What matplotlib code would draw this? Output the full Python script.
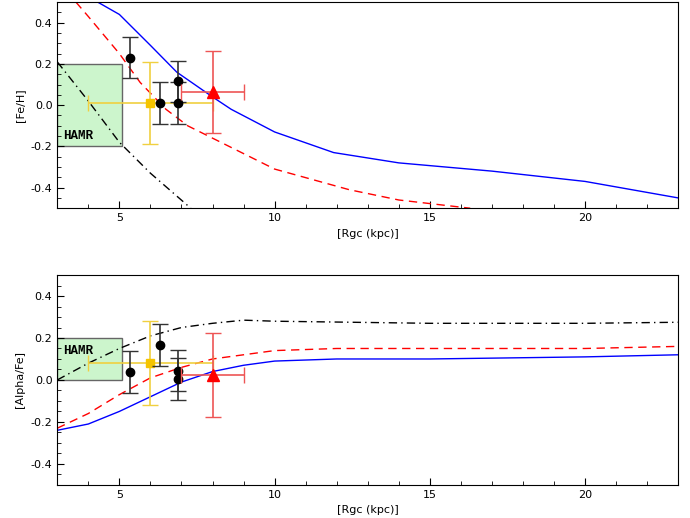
import numpy as np
import matplotlib.pyplot as plt
from matplotlib.patches import Rectangle
from matplotlib.ticker import MultipleLocator

# model curves (x in kpc)
fe_blue_x = [4.3, 5, 6, 6.85, 8, 8.6, 10, 11.9, 14, 17, 20, 23]
fe_blue_y = [0.5, 0.44, 0.29, 0.16, 0.04, -0.02, -0.13, -0.23, -0.28, -0.32, -0.37, -0.45]
fe_red_x = [3.6, 4, 5, 5.67, 6.5, 7.2, 8, 10, 12.4, 14, 16.3]
fe_red_y = [0.5, 0.43, 0.25, 0.11, -0.02, -0.1, -0.16, -0.31, -0.41, -0.46, -0.5]
fe_blk_x = [3, 4, 5, 6, 7.3]
fe_blk_y = [0.21, 0.02, -0.18, -0.33, -0.5]

al_blue_x = [3, 4, 5, 6, 7, 8, 9, 10, 12, 15, 20, 23]
al_blue_y = [-0.24, -0.21, -0.15, -0.08, -0.01, 0.04, 0.07, 0.09, 0.1, 0.1, 0.11, 0.12]
al_red_x = [3, 4, 5, 6, 7, 8, 9, 10, 12, 20, 23]
al_red_y = [-0.23, -0.16, -0.07, 0.01, 0.06, 0.1, 0.12, 0.14, 0.15, 0.15, 0.16]
al_blk_x = [3, 4, 5, 6, 7, 8, 9, 10, 15, 20, 23]
al_blk_y = [0.0, 0.08, 0.15, 0.21, 0.25, 0.27, 0.285, 0.28, 0.27, 0.27, 0.275]

# observations
blk_x = [5.35, 6.3, 6.9, 6.9]
fe_blk = [0.23, 0.01, 0.115, 0.01]
al_blk = [0.04, 0.165, 0.045, 0.005]
blk_err = 0.1
yel_x, yel_xlo, yel_xhi = 6.0, 2.0, 2.0
fe_yel, al_yel, yel_err = 0.01, 0.08, 0.2
red_x, red_xerr = 8.0, 1.0
fe_red_pt, al_red_pt, red_err = 0.065, 0.025, 0.2

fig = plt.figure(figsize=(6.9, 5.18), dpi=100)
ax1 = fig.add_axes([0.083, 0.598, 0.9, 0.398])
ax2 = fig.add_axes([0.083, 0.064, 0.9, 0.405])

def panel(ax, bx, by, rx, ry, kx, ky, pts, yel, red, box, text_y, ylabel):
    ax.add_patch(Rectangle((3, box[0]), 2.1, box[1] - box[0], facecolor='#ccf5cc',
                           edgecolor='#666666', lw=1, zorder=1))
    ax.text(3.2, text_y, 'HAMR', family='Liberation Mono', fontsize=9,
            va='center', weight='bold', zorder=2)
    ax.plot(bx, by, color='blue', lw=1)
    ax.plot(rx, ry, color='red', lw=1, ls=(0, (6, 4)))
    ax.plot(kx, ky, color='black', lw=1, ls=(0, (6, 3, 1, 3)))
    ax.errorbar(yel_x, yel, yerr=yel_err, xerr=[[yel_xlo], [yel_xhi]], fmt='s', color='#f5c400',
                ecolor='#f0d040', ms=6, capsize=6, lw=1.2, zorder=3)
    ax.errorbar(blk_x, pts, yerr=blk_err, fmt='o', color='black', ecolor='#333333',
                ms=6, capsize=6, lw=1.2, zorder=4)
    ax.errorbar(red_x, red, yerr=red_err, xerr=red_xerr, fmt='^', color='red',
                ecolor='#ee5555', ms=9, capsize=6, lw=1.2, zorder=5)
    ax.set_xlim(3, 23)
    ax.set_ylim(-0.5, 0.5)
    ax.xaxis.set_major_locator(MultipleLocator(5))
    ax.xaxis.set_minor_locator(MultipleLocator(1))
    ax.yaxis.set_major_locator(MultipleLocator(0.2))
    ax.yaxis.set_minor_locator(MultipleLocator(0.05))
    ax.tick_params(direction='in', which='both', labelsize=8, length=5)
    ax.tick_params(which='minor', length=3)
    ax.set_yticks([-0.4, -0.2, 0.0, 0.2, 0.4])
    ax.set_yticklabels(['-0.4', '-0.2', '0.0', '0.2', '0.4'])
    ax.set_xlabel('[Rgc (kpc)]', fontsize=8)
    ax.set_ylabel(ylabel, fontsize=8)

panel(ax1, fe_blue_x, fe_blue_y, fe_red_x, fe_red_y, fe_blk_x, fe_blk_y,
      fe_blk, fe_yel, fe_red_pt, (-0.2, 0.2), -0.15, '[Fe/H]')
panel(ax2, al_blue_x, al_blue_y, al_red_x, al_red_y, al_blk_x, al_blk_y,
      al_blk, al_yel, al_red_pt, (0.0, 0.2), 0.14, '[Alpha/Fe]')

fig.savefig('out.png')
